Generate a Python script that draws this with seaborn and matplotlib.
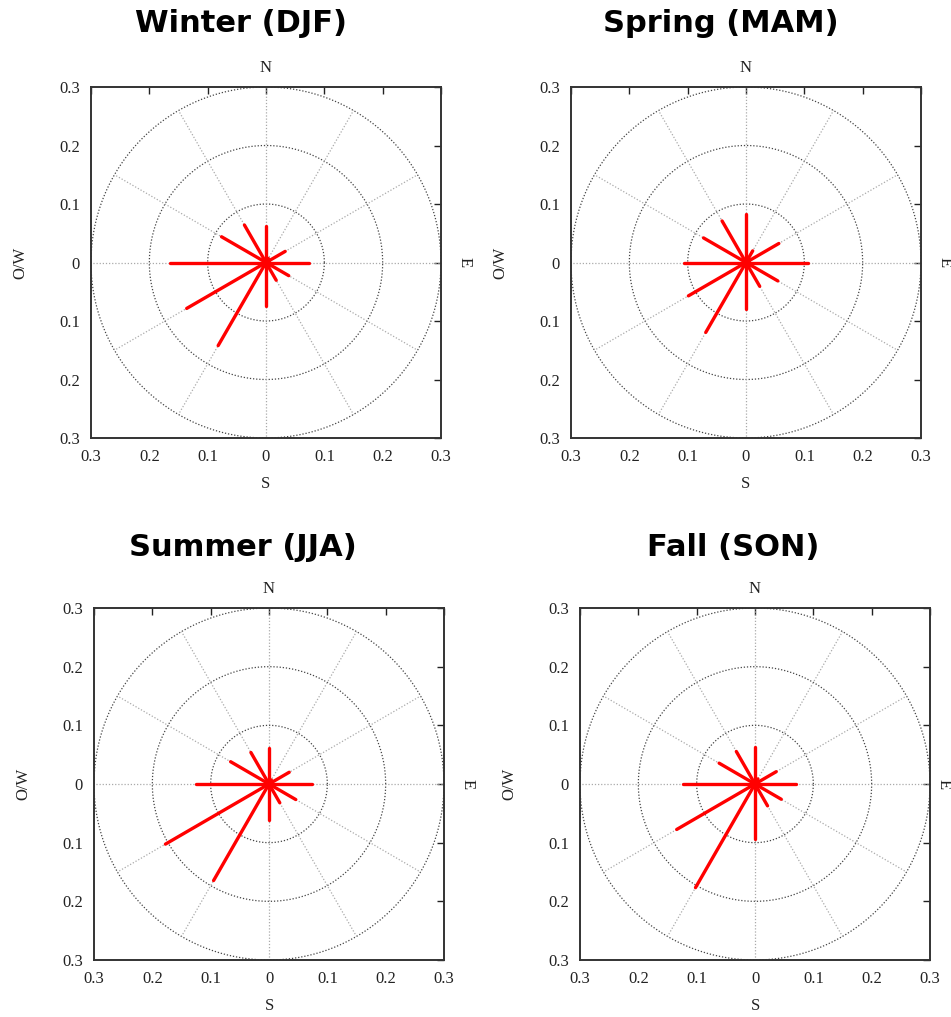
import numpy as np
import pandas as pd
import matplotlib
matplotlib.use("Agg")
import matplotlib.pyplot as plt
import seaborn as sns

# ---- data ----
directions_deg = [0, 30, 60, 90, 120, 150, 180, 210, 240, 270, 300, 330]
seasons = ["Winter (DJF)", "Spring (MAM)", "Summer (JJA)", "Fall (SON)"]
winter = [0.063, 0.008, 0.038, 0.073, 0.045, 0.035, 0.075, 0.164, 0.157, 0.164, 0.088, 0.074]
spring = [0.083, 0.023, 0.065, 0.106, 0.063, 0.047, 0.080, 0.138, 0.114, 0.107, 0.084, 0.082]
summer = [0.061, 0.008, 0.040, 0.074, 0.053, 0.037, 0.061, 0.190, 0.205, 0.126, 0.076, 0.062]
fall = [0.063, 0.010, 0.042, 0.071, 0.052, 0.043, 0.093, 0.204, 0.155, 0.124, 0.071, 0.064]
season_values = [winter, spring, summer, fall]

tick_pos = [-0.3, -0.2, -0.1, 0.0, 0.1, 0.2, 0.3]
tick_labels = ["0.3", "0.2", "0.1", "0", "0.1", "0.2", "0.3"]
grid_radii = [0.1, 0.2, 0.3]
spoke_angles = list(range(0, 360, 30))

sns.set_style("white")
plt.rcParams["font.family"] = ["Liberation Serif", "DejaVu Serif"]

W, H = 951, 1017
fig = plt.figure(figsize=(W / 100, H / 100), dpi=100)

# axes rectangles in pixels: left, top, right, bottom
rects = [(91, 87, 441, 438), (571, 87, 921, 438), (94, 608, 444, 960), (580, 608, 930, 960)]
title_pos = [(241, 22), (721, 22), (243, 545), (733, 545)]
e_offset = [24, 24, 24, 14]

for idx, (name, vals) in enumerate(zip(seasons, season_values)):
    l, t, r, b = rects[idx]
    ax = fig.add_axes([l / W, 1 - b / H, (r - l) / W, (b - t) / H])

    # polar grid: circles
    th = np.linspace(0, 2 * np.pi, 400)
    for rad in grid_radii:
        ax.plot(rad * np.cos(th), rad * np.sin(th), linestyle=(0, (1, 1.5)),
                color="#444444", lw=0.9, zorder=1)
    # spokes
    for a in spoke_angles:
        ar = np.deg2rad(a)
        ax.plot([0, 0.3 * np.sin(ar)], [0, 0.3 * np.cos(ar)], linestyle=(0, (1, 1.5)),
                color="#aaaaaa", lw=0.9, zorder=1)

    # red direction bars via seaborn
    rows = []
    for d, v in zip(directions_deg, vals):
        ar = np.deg2rad(d)
        rows.append({"dir": d, "x": 0.0, "y": 0.0, "o": 0})
        rows.append({"dir": d, "x": v * np.sin(ar), "y": v * np.cos(ar), "o": 1})
    df = pd.DataFrame(rows)
    sns.lineplot(data=df, x="x", y="y", units="dir", estimator=None, sort=False,
                 color="#ff0000", lw=2.4, ax=ax, legend=False, zorder=3)
    ax.plot([0], [0], "o", color="#ff0000", ms=6, zorder=4)

    ax.set_xlim(-0.3, 0.3)
    ax.set_ylim(-0.3, 0.3)
    ax.set_xticks(tick_pos)
    ax.set_yticks(tick_pos)
    ax.set_xticklabels(tick_labels)
    ax.set_yticklabels(tick_labels[::-1])
    ax.tick_params(direction="in", length=5, width=1, top=True, right=True,
                   labelsize=12, colors="#222222", pad=8)
    ax.set_xlabel("")
    ax.set_ylabel("")
    for s in ax.spines.values():
        s.set_color("#333333")
        s.set_linewidth(1.4)
        s.set_visible(True)

    aw, ah = (r - l), (b - t)
    ax.text(0.5, 1 + 19 / ah, "N", transform=ax.transAxes, ha="center", va="center",
            fontsize=12, color="#222222")
    ax.text(0.5, -46 / ah, "S", transform=ax.transAxes, ha="center", va="center",
            fontsize=12, color="#222222")
    ax.text(-71 / aw, 0.5, "O/W", transform=ax.transAxes, ha="center", va="center",
            rotation=90, fontsize=12, color="#222222")
    ax.text(1 + e_offset[idx] / aw, 0.5, "E", transform=ax.transAxes, ha="center", va="center",
            rotation=-90, fontsize=12, color="#222222")

    tx, ty = title_pos[idx]
    fig.text(tx / W, 1 - (ty + 2) / H, name, ha="center", va="center", fontsize=22,
             fontweight="bold", family="DejaVu Sans", color="black")

fig.savefig("out.png", dpi=100)
